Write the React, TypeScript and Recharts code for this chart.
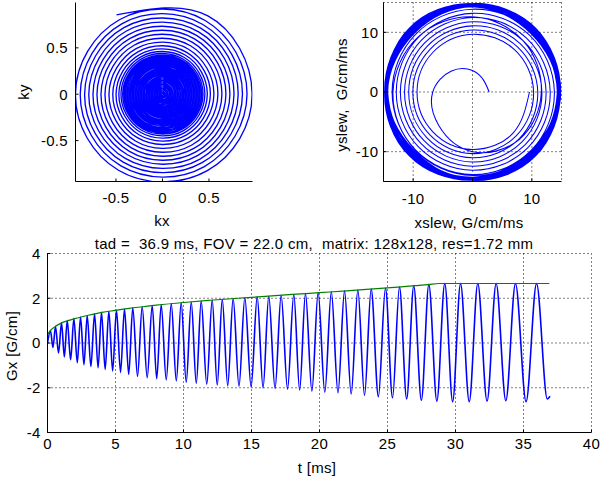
import React from 'react';
import { LineChart, Line, XAxis, YAxis, CartesianGrid } from 'recharts';

const FONT = "'Liberation Sans', Arial, Helvetica, sans-serif";

// ---- k-space trajectory: radius read every 60 deg (counter-clockwise from +kx) ----
const kStepDeg = 60;
const kRadius: number[] = [
  0.000, 0.002, 0.005, 0.007, 0.010, 0.012,
  0.015, 0.017, 0.019, 0.022, 0.024, 0.027,
  0.029, 0.031, 0.034, 0.036, 0.039, 0.041,
  0.044, 0.046, 0.048, 0.051, 0.053, 0.056,
  0.058, 0.060, 0.063, 0.065, 0.068, 0.070,
  0.073, 0.075, 0.077, 0.080, 0.082, 0.085,
  0.087, 0.089, 0.092, 0.094, 0.097, 0.099,
  0.102, 0.104, 0.106, 0.109, 0.111, 0.114,
  0.116, 0.118, 0.121, 0.123, 0.126, 0.128,
  0.131, 0.133, 0.135, 0.138, 0.140, 0.143,
  0.145, 0.147, 0.150, 0.152, 0.155, 0.157,
  0.160, 0.162, 0.164, 0.167, 0.169, 0.172,
  0.174, 0.176, 0.179, 0.181, 0.184, 0.186,
  0.189, 0.191, 0.193, 0.196, 0.198, 0.201,
  0.203, 0.205, 0.208, 0.210, 0.213, 0.215,
  0.218, 0.220, 0.222, 0.225, 0.227, 0.230,
  0.232, 0.234, 0.237, 0.239, 0.242, 0.244,
  0.247, 0.249, 0.251, 0.254, 0.256, 0.259,
  0.261, 0.263, 0.266, 0.268, 0.271, 0.273,
  0.276, 0.278, 0.280, 0.283, 0.285, 0.288,
  0.290, 0.292, 0.295, 0.297, 0.300, 0.302,
  0.305, 0.307, 0.309, 0.312, 0.314, 0.317,
  0.319, 0.321, 0.324, 0.326, 0.329, 0.331,
  0.334, 0.336, 0.338, 0.341, 0.343, 0.346,
  0.348, 0.350, 0.353, 0.355, 0.358, 0.360,
  0.363, 0.365, 0.367, 0.370, 0.372, 0.375,
  0.377, 0.379, 0.382, 0.384, 0.387, 0.389,
  0.392, 0.394, 0.396, 0.399, 0.401, 0.404,
  0.406, 0.408, 0.411, 0.413, 0.416, 0.418,
  0.421, 0.423, 0.425, 0.428, 0.430, 0.433,
  0.436, 0.439, 0.443, 0.446, 0.449, 0.453,
  0.456, 0.460, 0.465, 0.469, 0.473, 0.478,
  0.482, 0.488, 0.493, 0.499, 0.505, 0.510,
  0.515, 0.521, 0.528, 0.534, 0.541, 0.547,
  0.553, 0.560, 0.567, 0.575, 0.582, 0.589,
  0.596, 0.603, 0.610, 0.618, 0.625, 0.632,
  0.639, 0.646, 0.653, 0.661, 0.668, 0.675,
  0.682, 0.689, 0.696, 0.704, 0.711, 0.718,
  0.725, 0.732, 0.740, 0.747, 0.754, 0.762,
  0.769, 0.777, 0.784, 0.792, 0.799, 0.807,
  0.814, 0.822, 0.829, 0.837, 0.845, 0.852,
  0.860, 0.868, 0.876, 0.884, 0.893, 0.901,
  0.909, 0.918, 0.927, 0.936, 0.946, 0.955,
  0.964, 0.976, 0.988,
];

// ---- slew-rate trajectory: radius read every 45 deg (counter-clockwise) ----
const slewStepDeg = 45;
const slewRadius: number[] = [
  2.8, 2.7, 3.6, 5.0, 6.7, 8.0, 10.0, 11.2,
  11.6, 12.1, 12.6, 13.0, 13.4, 13.7, 14.0, 14.3,
  14.6, 14.3, 14.7, 15.0, 14.4, 14.0, 14.8, 14.8,
  14.4, 15.1, 14.6, 14.1, 14.7, 14.8, 14.3, 14.0,
  14.8, 14.0, 14.4, 14.6, 14.8, 15.1, 14.5, 14.5,
  14.3, 14.6, 14.8, 15.1, 14.3, 14.1, 14.7, 15.0,
  14.6, 15.0, 14.4, 13.9, 14.6, 14.5, 14.3, 14.1,
  14.9, 14.3, 14.6, 14.3, 14.8, 15.1, 14.6, 14.6,
  14.5, 13.9, 14.3, 14.8, 14.4, 14.1, 14.8, 15.1,
  14.7, 15.1, 14.8, 14.1, 14.6, 14.7, 14.4, 14.2,
  14.3, 14.5, 14.5, 15.0, 14.8, 14.9, 14.6, 13.9,
  14.6, 14.8, 14.8, 14.5, 14.4, 13.9, 14.8, 14.8,
  14.4, 14.1, 14.3, 14.0, 14.7, 14.5, 14.3, 15.0,
  14.8, 14.9, 14.6, 14.9, 14.5, 15.1, 14.7, 14.4,
  14.5, 14.4, 14.8, 14.2, 14.8, 14.1, 14.4, 14.1,
  14.3, 15.1, 14.5, 14.8, 14.3, 14.6, 14.8, 14.7,
  14.7, 14.1, 14.3, 15.1, 14.6, 15.0, 14.5, 15.0,
  14.5, 14.7, 14.7, 13.9, 14.8, 14.0, 14.6, 14.2,
  14.8, 15.0, 14.4, 14.5, 14.3, 14.8, 14.3, 14.5,
  14.3, 14.2, 14.8, 14.8, 14.5, 14.2, 14.8, 15.1,
  14.6, 13.9, 14.5, 14.2, 14.8, 15.0, 14.5, 14.1,
  14.4, 14.8, 14.3, 15.0, 14.4, 14.5, 14.3, 14.6,
  14.8, 15.0, 14.8, 14.1, 14.7, 13.9, 14.7, 14.9,
  14.5, 14.2, 14.6, 14.7, 14.3, 14.9, 14.8, 14.3,
  14.3, 15.1, 14.4, 15.0, 14.8, 14.4, 14.4, 14.0,
  14.7, 14.1, 14.8, 14.4, 14.5, 14.8, 14.6, 15.0,
  14.5, 14.5, 14.3, 13.9, 14.3, 14.1, 14.8, 14.5,
  14.8, 14.9, 14.7, 14.9, 14.8, 15.1, 14.3, 14.1,
  14.3, 14.3, 14.5, 14.6, 14.5, 14.5, 14.7, 15.0,
  14.6, 15.1, 14.8, 14.1, 14.6, 14.0, 14.5, 14.4,
  14.4, 14.0, 14.3, 15.1, 14.3, 14.9, 14.8, 14.8,
  14.8, 14.6, 14.6, 14.5, 14.8, 14.3, 14.3, 13.9,
  14.5, 15.0, 14.4, 14.2, 14.4, 14.8, 14.7, 14.9,
  14.3, 14.2, 14.8, 15.0, 14.7, 14.1, 14.5, 14.4,
  14.7, 14.8, 14.5, 14.0, 14.5, 15.1, 14.8, 14.7,
  14.5, 14.1, 14.3, 14.8, 14.3, 14.6, 14.4, 14.3,
  14.5, 14.22, 13.88, 13.62, 13.55, 13.65, 13.83, 13.91,
  13.8, 13.52, 13.18, 12.92, 12.85, 12.95, 13.13, 13.21,
  13.1, 12.82, 12.48, 12.22, 12.15, 12.25, 12.43, 12.51,
  12.4, 12.12, 11.78, 11.52, 11.45, 11.55, 11.73, 11.81,
  11.7, 11.42, 11.08, 10.82, 10.75, 10.85, 11.03, 11.11,
  11.0, 10.72, 10.38, 10.12, 10.05, 10.15, 10.33, 10.41,
  10.3, 10.02, 9.68, 9.42, 9.35, 9.45, 9.63, 9.71,
  9.6,
];

// ---- Gx waveform: extrema (time in ms, value in G/cm) ----
const gxTime: number[] = [
  0, 0.22, 0.40, 0.59, 0.81, 1.03, 1.24, 1.45, 1.70, 1.94, 2.19, 2.43, 2.68, 2.92,
  3.19, 3.46, 3.72, 3.97, 4.24, 4.51, 4.79, 5.07, 5.37, 5.66, 5.97, 6.27, 6.62, 6.96,
  7.33, 7.70, 8.03, 8.36, 8.73, 9.10, 9.47, 9.83, 10.20, 10.57, 10.94, 11.30, 11.71,
  12.11, 12.48, 12.85, 13.25, 13.65, 14.08, 14.51, 14.97, 15.42, 15.85, 16.27, 16.73,
  17.18, 17.65, 18.11, 18.54, 18.97, 19.44, 19.90, 20.39, 20.87, 21.36, 21.84, 22.33,
  22.82, 23.31, 23.80, 24.33, 24.85, 25.37, 25.88, 26.41, 26.93, 27.49, 28.04, 28.63,
  29.21, 29.79, 30.37, 31.01, 31.64, 32.32, 32.99, 33.70, 34.41, 35.19, 35.96, 36.75,
  36.95,
];
const gxValue: number[] = [
  0, 0.55, -0.20, 0.74, -0.45, 0.90, -0.62, 1.00, -0.75, 1.09, -0.88, 1.16, -0.97, 1.23,
  -1.05, 1.31, -1.11, 1.37, -1.18, 1.42, -1.25, 1.47, -1.32, 1.52, -1.40, 1.57, -1.49, 1.62,
  -1.55, 1.67, -1.60, 1.71, -1.65, 1.76, -1.70, 1.80, -1.75, 1.83, -1.80, 1.87, -1.84,
  1.92, -1.88, 1.95, -1.91, 1.99, -1.93, 2.02, -1.96, 2.06, -2.00, 2.09, -2.03,
  2.13, -2.06, 2.17, -2.10, 2.21, -2.15, 2.25, -2.20, 2.29, -2.22, 2.33, -2.28,
  2.37, -2.34, 2.41, -2.40, 2.45, -2.45, 2.50, -2.50, 2.55, -2.56, 2.61, -2.60,
  2.66, -2.62, 2.66, -2.62, 2.66, -2.60, 2.66, -2.58, 2.66, -2.62, 2.66, -2.50,
  -2.38,
];

// ---- gradient amplitude envelope (green) ----
const envTime: number[] = [0, 0.25, 0.5, 1, 1.5, 2, 3, 4, 5, 6, 7, 8, 10, 12, 14, 16, 18, 20, 22, 24, 26, 27, 28, 28.8, 36.9];
const envValue: number[] = [0.38, 0.58, 0.71, 0.89, 1.0, 1.09, 1.24, 1.37, 1.46, 1.55, 1.62, 1.69, 1.81, 1.91, 2.0, 2.08, 2.17, 2.25, 2.33, 2.42, 2.51, 2.56, 2.61, 2.66, 2.66];

// ---- tick labels ----
const kTicks = [-0.5, 0, 0.5];
const slewTicks = [-10, 0, 10];
const tTicks = [0, 5, 10, 15, 20, 25, 30, 35, 40];
const gTicks = [-4, -2, 0, 2, 4];

const titleText = 'tad =  36.9 ms, FOV = 22.0 cm,  matrix: 128x128, res=1.72 mm';

const polar = (radii: number[], stepDeg: number) =>
  radii.map((r, i) => {
    const a = (i * stepDeg * Math.PI) / 180;
    return { x: r * Math.cos(a), y: r * Math.sin(a) };
  });

const kData = polar(kRadius, kStepDeg);
const slewData = polar(slewRadius, slewStepDeg);
const gxData = gxTime.map((t, i) => ({ t, v: gxValue[i] }));
const envData = envTime.map((t, i) => ({ t, v: envValue[i] }));

const BLACK = { stroke: '#000', strokeWidth: 1 };
const TICK = { fontSize: 15, fill: '#000', fontFamily: FONT };
const BLUE = '#0000ff';
const GREEN = '#008000';

const Lbl = ({ x, y, rot, children }: { x: number; y: number; rot?: boolean; children: React.ReactNode }) => (
  <div
    style={{
      position: 'absolute',
      left: x,
      top: y,
      transform: `translate(-50%, -50%)${rot ? ' rotate(-90deg)' : ''}`,
      fontSize: 15,
      lineHeight: 1,
      whiteSpace: 'pre',
      fontFamily: FONT,
      color: '#000',
    }}
  >
    {children}
  </div>
);

export default function App() {
  return (
    <div
      style={{
        position: 'absolute',
        left: 0,
        top: 0,
        width: 600,
        height: 482,
        background: '#fff',
        fontFamily: FONT,
        letterSpacing: '0.3px',
        overflow: 'hidden',
      }}
    >
      {/* k-space */}
      <div style={{ position: 'absolute', left: 0, top: 0 }}>
        <LineChart width={300} height={232} data={kData} margin={{ top: 2.5, right: 47.5, bottom: 0, left: 0 }}>
          <XAxis type="number" dataKey="x" domain={[-0.935, 0.968]} allowDataOverflow ticks={kTicks} interval={0}
            height={50.5} tickSize={-3} tickMargin={13.5} axisLine={BLACK} tickLine={BLACK} tick={TICK} />
          <XAxis xAxisId="top" orientation="top" type="number" domain={[-0.935, 0.968]} allowDataOverflow ticks={kTicks}
            interval={0} height={0} tickSize={-3} axisLine={BLACK} tickLine={BLACK} tick={false} />
          <YAxis type="number" domain={[-0.941, 0.989]} allowDataOverflow ticks={kTicks} interval={0}
            width={75.5} tickSize={-3} tickMargin={10.5} axisLine={BLACK} tickLine={BLACK} tick={TICK} />
          <YAxis yAxisId="right" orientation="right" type="number" domain={[-0.941, 0.989]} allowDataOverflow ticks={kTicks}
            interval={0} width={0} tickSize={-3} axisLine={BLACK} tickLine={BLACK} tick={false} />
          <Line type="natural" dataKey="y" stroke={BLUE} strokeWidth={1.35} dot={false} activeDot={false} isAnimationActive={false} />
        </LineChart>
      </div>

      {/* slew */}
      <div style={{ position: 'absolute', left: 300, top: 0 }}>
        <LineChart width={300} height={232} data={slewData} margin={{ top: 2.5, right: 38.5, bottom: 0, left: 0 }}>
          <CartesianGrid stroke="#000" strokeDasharray="1 3" />
          <XAxis type="number" dataKey="x" domain={[-15, 15]} allowDataOverflow ticks={slewTicks} interval={0}
            height={50.5} tickSize={-3} tickMargin={14.5} axisLine={BLACK} tickLine={BLACK} tick={TICK} />
          <XAxis xAxisId="top" orientation="top" type="number" domain={[-15, 15]} allowDataOverflow ticks={slewTicks}
            interval={0} height={0} tickSize={-3} axisLine={BLACK} tickLine={BLACK} tick={false} />
          <YAxis type="number" domain={[-15, 15]} allowDataOverflow ticks={slewTicks} interval={0}
            width={83.5} tickSize={-3} tickMargin={8.2} axisLine={BLACK} tickLine={BLACK} tick={TICK} />
          <YAxis yAxisId="right" orientation="right" type="number" domain={[-15, 15]} allowDataOverflow ticks={slewTicks}
            interval={0} width={0} tickSize={-3} axisLine={BLACK} tickLine={BLACK} tick={false} />
          <Line type="natural" dataKey="y" stroke={BLUE} strokeWidth={1.05} dot={false} activeDot={false} isAnimationActive={false} />
        </LineChart>
      </div>

      {/* Gx */}
      <div style={{ position: 'absolute', left: 0, top: 232 }}>
        <LineChart width={600} height={250} margin={{ top: 21.5, right: 8.5, bottom: 0, left: 0 }}>
          <CartesianGrid stroke="#000" strokeDasharray="1 3" />
          <XAxis type="number" dataKey="t" domain={[0, 40]} allowDataOverflow ticks={tTicks} interval={0}
            height={49.5} tickSize={-3} tickMargin={8.5} axisLine={BLACK} tickLine={BLACK} tick={TICK} />
          <XAxis xAxisId="top" orientation="top" type="number" domain={[0, 40]} allowDataOverflow ticks={tTicks}
            interval={0} height={0} tickSize={-3} axisLine={BLACK} tickLine={BLACK} tick={false} />
          <YAxis type="number" domain={[-4, 4]} allowDataOverflow ticks={gTicks} interval={0}
            width={47.5} tickSize={-3} tickMargin={9.8} axisLine={BLACK} tickLine={BLACK} tick={TICK} />
          <YAxis yAxisId="right" orientation="right" type="number" domain={[-4, 4]} allowDataOverflow ticks={gTicks}
            interval={0} width={0} tickSize={-3} axisLine={BLACK} tickLine={BLACK} tick={false} />
          <Line data={gxData} type="monotone" dataKey="v" stroke={BLUE} strokeWidth={1.6} dot={false} activeDot={false} isAnimationActive={false} />
          <Line data={envData} type="monotone" dataKey="v" stroke={GREEN} strokeWidth={1.2} dot={false} activeDot={false} isAnimationActive={false} />
        </LineChart>
      </div>

      <Lbl x={162} y={220}>kx</Lbl>
      <Lbl x={23} y={92} rot>ky</Lbl>
      <Lbl x={469} y={222}>xslew, G/cm/ms</Lbl>
      <Lbl x={341} y={95} rot>yslew,  G/cm/ms</Lbl>
      <Lbl x={314} y={243}>{titleText}</Lbl>
      <Lbl x={11} y={346} rot>Gx [G/cm]</Lbl>
      <Lbl x={317} y={467}>t [ms]</Lbl>
    </div>
  );
}
